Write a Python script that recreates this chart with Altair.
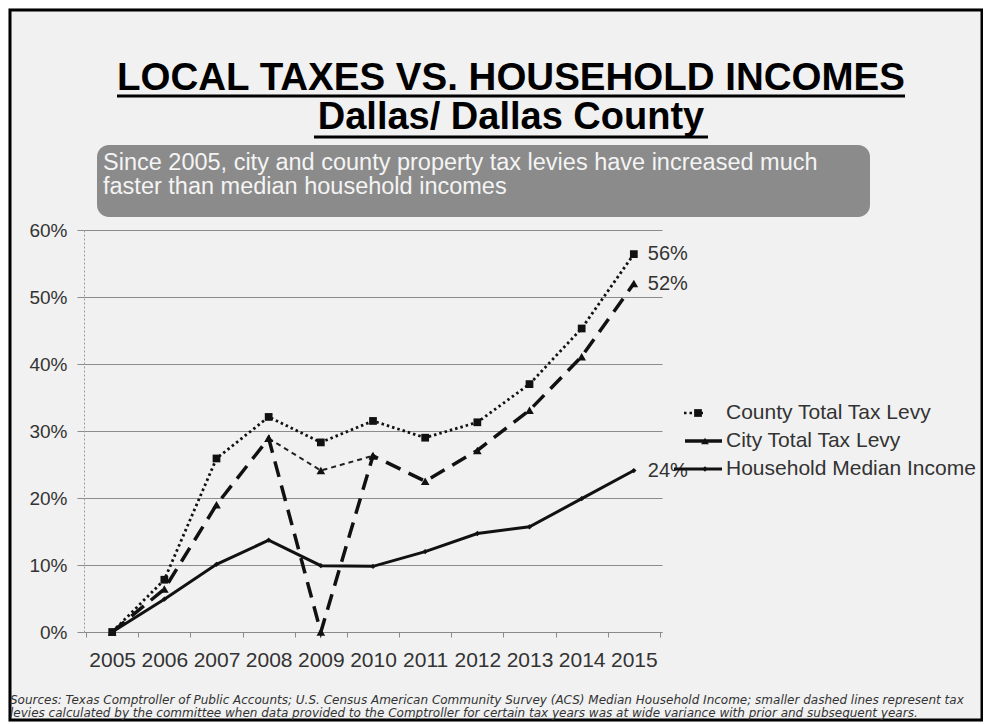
import altair as alt
import pandas as pd

# ---------------- data ----------------
YEARS = ['2005', '2006', '2007', '2008', '2009', '2010', '2011', '2012', '2013', '2014', '2015']
COUNTY = [0.0, 7.8, 25.9, 32.1, 28.3, 31.5, 29.0, 31.3, 37.0, 45.3, 56.4]
CITY = [0.0, 6.4, 19.0, 28.9, 0.0, 26.3, 22.5, 27.1, 33.1, 41.1, 52.0]
CITY_ALT_YEARS = ['2008', '2009', '2010']
CITY_ALT = [28.9, 24.1, 26.3]
INCOME = [0.0, 4.9, 10.1, 13.7, 9.9, 9.8, 12.0, 14.7, 15.7, 19.9, 24.1]
END_LABELS = ['56%', '52%', '24%']
SERIES = ['County Total Tax Levy', 'City Total Tax Levy', 'Household Median Income']
Y_TICKS = [0, 10, 20, 30, 40, 50, 60]

TITLE = 'LOCAL TAXES VS. HOUSEHOLD INCOMES'
SUBTITLE = 'Dallas/ Dallas County'
BANNER = ['Since 2005, city and county property tax  levies have increased much',
          'faster than median household incomes']
FOOTNOTE = ['Sources: Texas Comptroller of Public Accounts; U.S. Census American Community Survey (ACS) Median Household Income; smaller dashed lines represent tax',
            'levies calculated by the committee when data provided to the Comptroller for certain tax years was at wide variance with prior and subsequent years.']

# ---------------- layout ----------------
W, H = 578, 402
PAD = {"left": 76, "top": 222, "right": 321, "bottom": 90}
FONT = 'Liberation Sans'
INK = '#111111'
TXT = '#333333'

county_df = pd.DataFrame({'year': YEARS, 'v': COUNTY})
city_df = pd.DataFrame({'year': YEARS, 'v': CITY})
city_alt_df = pd.DataFrame({'year': CITY_ALT_YEARS, 'v': CITY_ALT})
income_df = pd.DataFrame({'year': YEARS, 'v': INCOME})
end_df = pd.DataFrame({'year': [YEARS[-1]] * 3,
                       'v': [COUNTY[-1], CITY[-1], INCOME[-1]],
                       'lab': END_LABELS})

xaxis = alt.Axis(title=None, tickBand='extent', labelAngle=0, labelFontSize=21,
                 labelFont=FONT, labelColor=TXT, domainColor='#8a8a8a', tickColor='#8a8a8a',
                 tickSize=5, labelPadding=12, grid=False)
yaxis = alt.Axis(title=None, values=Y_TICKS, labelExpr="datum.value + '%'", grid=True,
                 gridColor='#8c8c8c', gridWidth=1, domainColor='#9a9a9a', domainDash=[2, 2],
                 tickColor='#8c8c8c', tickSize=7, labelPadding=10, labelFontSize=19,
                 labelFont=FONT, labelColor=TXT)
xs = alt.Scale(type='band', domain=YEARS, paddingInner=0, paddingOuter=0.04)
ys = alt.Scale(domain=[0, 60], nice=False)


def X():
    return alt.X('year:N', scale=xs, axis=xaxis, bandPosition=0.5)


def Y():
    return alt.Y('v:Q', scale=ys, axis=yaxis)


def one(text=''):
    return pd.DataFrame({'t': [text]})


layers = []

# frame
layers.append(alt.Chart(one()).mark_rect(fillOpacity=0, stroke='black', strokeWidth=3).encode(
    x=alt.value(-74), x2=alt.value(898), y=alt.value(-220), y2=alt.value(490)))

# banner
layers.append(alt.Chart(one()).mark_rect(color='#8b8b8b', cornerRadius=12).encode(
    x=alt.value(13), x2=alt.value(786), y=alt.value(-85), y2=alt.value(-13)))
for i, line in enumerate(BANNER):
    layers.append(alt.Chart(one(line)).mark_text(
        align='left', baseline='middle', font=FONT, fontSize=23.5, color='#f4f4f4').encode(
        text='t:N', x=alt.value(19), y=alt.value(-67 + 24 * i)))

# title + subtitle with underlines
layers.append(alt.Chart(one(TITLE)).mark_text(
    align='center', baseline='alphabetic', font=FONT, fontSize=38.5, fontWeight='bold', color='black').encode(
    text='t:N', x=alt.value(427), y=alt.value(-140)))
layers.append(alt.Chart(one()).mark_rule(color='black', strokeWidth=3).encode(
    x=alt.value(33), x2=alt.value(821), y=alt.value(-134)))
layers.append(alt.Chart(one(SUBTITLE)).mark_text(
    align='center', baseline='alphabetic', font=FONT, fontSize=38, fontWeight='bold', color='black').encode(
    text='t:N', x=alt.value(427), y=alt.value(-101)))
layers.append(alt.Chart(one()).mark_rule(color='black', strokeWidth=3).encode(
    x=alt.value(230), x2=alt.value(624), y=alt.value(-93)))

# series lines
layers.append(alt.Chart(income_df).mark_line(color=INK, strokeWidth=3).encode(x=X(), y=Y()))
layers.append(alt.Chart(city_alt_df).mark_line(color='#222222', strokeWidth=2, strokeDash=[5, 4]).encode(x=X(), y=Y()))
layers.append(alt.Chart(city_df).mark_line(color=INK, strokeWidth=3.5, strokeDash=[16, 9]).encode(x=X(), y=Y()))
layers.append(alt.Chart(county_df).mark_line(color=INK, strokeWidth=2.8, strokeDash=[2.5, 3]).encode(x=X(), y=Y()))

# markers
layers.append(alt.Chart(income_df).mark_point(shape='diamond', filled=True, size=28, color=INK, opacity=1).encode(x=X(), y=Y()))
layers.append(alt.Chart(city_alt_df).mark_point(shape='triangle-up', filled=True, size=75, color=INK, opacity=1).encode(x=X(), y=Y()))
layers.append(alt.Chart(city_df).mark_point(shape='triangle-up', filled=True, size=75, color=INK, opacity=1).encode(x=X(), y=Y()))
layers.append(alt.Chart(county_df).mark_point(shape='square', filled=True, size=60, color=INK, opacity=1).encode(x=X(), y=Y()))

# end labels
layers.append(alt.Chart(end_df).mark_text(align='left', baseline='middle', dx=14, font=FONT,
                                          fontSize=20, color=TXT).encode(x=X(), y=Y(), text='lab:N'))

# custom legend
LEG_Y = [183, 211, 239]
leg_text_x = 642
layers.append(alt.Chart(one()).mark_rule(color=INK, strokeWidth=2.5, strokeDash=[2.5, 3]).encode(
    x=alt.value(600), x2=alt.value(622), y=alt.value(LEG_Y[0])))
layers.append(alt.Chart(one()).mark_point(shape='square', filled=True, size=60, color=INK, opacity=1).encode(
    x=alt.value(614), y=alt.value(LEG_Y[0])))
layers.append(alt.Chart(one()).mark_rule(color=INK, strokeWidth=3.5).encode(
    x=alt.value(601), x2=alt.value(638), y=alt.value(LEG_Y[1])))
layers.append(alt.Chart(one()).mark_point(shape='triangle-up', filled=True, size=60, color=INK, opacity=1).encode(
    x=alt.value(621), y=alt.value(LEG_Y[1])))
layers.append(alt.Chart(one()).mark_rule(color=INK, strokeWidth=3).encode(
    x=alt.value(590), x2=alt.value(638), y=alt.value(LEG_Y[2])))
layers.append(alt.Chart(one()).mark_point(shape='diamond', filled=True, size=28, color=INK, opacity=1).encode(
    x=alt.value(621), y=alt.value(LEG_Y[2])))
for name, yy in zip(SERIES, LEG_Y):
    layers.append(alt.Chart(one(name)).mark_text(align='left', baseline='middle', font=FONT,
                                                 fontSize=21, color=TXT).encode(
        text='t:N', x=alt.value(leg_text_x), y=alt.value(yy)))

# footnote
for i, line in enumerate(FOOTNOTE):
    layers.append(alt.Chart(one(line)).mark_text(align='left', baseline='alphabetic', font='DejaVu Sans',
                                                 fontStyle='italic', fontSize=12, color=TXT).encode(
        text='t:N', x=alt.value(-74), y=alt.value(474 + 12.5 * i)))

chart = alt.layer(*layers).properties(
    width=W, height=H, padding=PAD,
    autosize=alt.AutoSizeParams(type='none'),
    background='#f1f1f1',
).configure_view(strokeWidth=0)

chart.save("out.html", embed_options={"renderer": "svg", "actions": False})
